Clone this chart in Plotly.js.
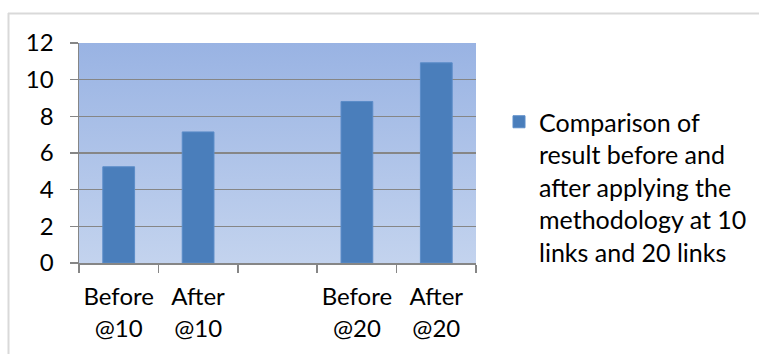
<!DOCTYPE html>
<html>
<head>
<meta charset="utf-8">
<script src="https://cdn.plot.ly/plotly-3.0.1.min.js"></script>
<style>html,body{margin:0;padding:0;background:#fff;}#chart{width:759px;height:354px;}</style>
</head>
<body>
<div id="chart"></div>
<script>
const categories = ["Before<br>@10", "After<br>@10", " ", "Before<br>@20", "After<br>@20"];
const values = [5.25, 7.15, null, 8.81, 10.92];
const seriesName = "Comparison of<br>result before and<br>after applying the<br>methodology at 10<br>links and 20 links";
const yTicks = [0, 2, 4, 6, 8, 10, 12];

const W = 759, H = 354;
const L = 79, R = 283, T = 43, B = 91;
const pw = W - L - R, ph = H - T - B;
const px = x => (x - L) / pw;
const py = y => (H - B - y) / ph;

const grad = 'data:image/svg+xml;utf8,' + encodeURIComponent(
  '<svg xmlns="http://www.w3.org/2000/svg" width="100" height="100" preserveAspectRatio="none">' +
  '<defs><linearGradient id="g" x1="0" y1="0" x2="0" y2="1">' +
  '<stop offset="0" stop-color="#99B3E3"/><stop offset="1" stop-color="#C3D3EE"/></linearGradient></defs>' +
  '<rect width="100" height="100" fill="url(#g)"/></svg>');

const font = "Lato, 'Open Sans', sans-serif";

Plotly.newPlot('chart', [{
  type: 'bar',
  x: categories,
  y: values,
  name: seriesName,
  marker: {color: '#4A7EBB', line: {color: '#5B8CC8', width: 1}},
  showlegend: true
}], {
  width: W, height: H,
  margin: {l: L, r: R, t: T, b: B, pad: 0, autoexpand: false},
  paper_bgcolor: '#ffffff',
  plot_bgcolor: 'rgba(0,0,0,0)',
  font: {family: font, size: 24, color: '#000'},
  bargap: 0.6,
  xaxis: {
    type: 'category',
    tickson: 'boundaries',
    tickangle: 0,
    automargin: false,
    ticks: 'outside', ticklen: 8, tickwidth: 1.5, tickcolor: '#868686',
    showline: true, linecolor: '#868686', linewidth: 1.5,
    showgrid: false, zeroline: false,
    ticklabelstandoff: 12,
    tickfont: {family: font, size: 24, color: '#000'},
    fixedrange: true
  },
  yaxis: {
    range: [0, 12],
    automargin: false,
    tickvals: yTicks,
    ticktext: yTicks.map(String),
    ticks: 'outside', ticklen: 8, tickwidth: 1.5, tickcolor: '#868686',
    showline: true, linecolor: '#868686', linewidth: 1.5,
    showgrid: true, gridcolor: '#868686', gridwidth: 1.5,
    zeroline: false,
    ticklabelstandoff: 11,
    tickfont: {family: font, size: 24, color: '#000'},
    fixedrange: true
  },
  legend: {
    x: px(499), y: py(99), xanchor: 'left', yanchor: 'top',
    valign: 'top',
    bgcolor: 'rgba(0,0,0,0)',
    font: {family: font, size: 25, color: '#000'},
    itemwidth: 30
  },
  images: [{
    source: grad, xref: 'paper', yref: 'paper',
    x: 0, y: 1, sizex: 1, sizey: 1, xanchor: 'left', yanchor: 'top',
    sizing: 'stretch', layer: 'below'
  }],
  shapes: [
    {type: 'line', xref: 'paper', yref: 'paper', x0: px(8.5), x1: px(8.5), y0: py(13), y1: py(354), line: {color: '#D9D9D9', width: 2}},
    {type: 'line', xref: 'paper', yref: 'paper', x0: px(8), x1: px(759), y0: py(13.5), y1: py(13.5), line: {color: '#D9D9D9', width: 2}}
  ]
}, {displayModeBar: false, staticPlot: true});
</script>
</body>
</html>
